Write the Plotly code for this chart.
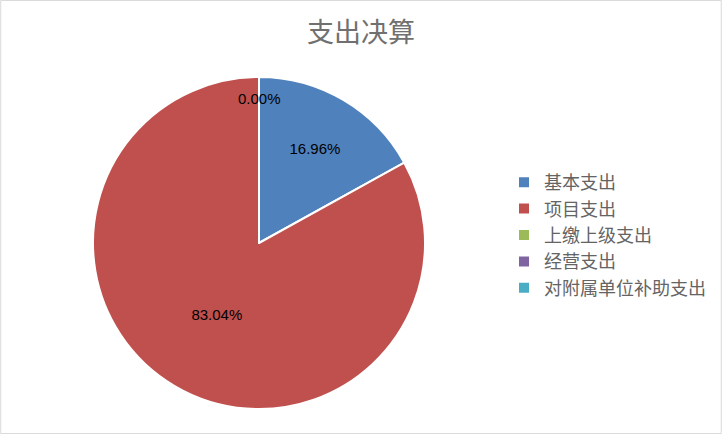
import plotly.graph_objects as go

# 支出决算 - 各项支出占比
labels = ["基本支出", "项目支出", "上缴上级支出", "经营支出", "对附属单位补助支出"]
values = [16.96, 83.04, 0.0, 0.0, 0.0]
colors = ["#4F81BD", "#C0504D", "#9BBB59", "#8064A2", "#4BACC6"]

W, H = 722, 434
font_cjk = "Noto Sans CJK SC"

fig = go.Figure()

fig.add_trace(go.Pie(
    labels=labels,
    values=values,
    sort=False,
    direction="clockwise",
    rotation=0,
    marker=dict(colors=colors, line=dict(color="white", width=2)),
    texttemplate="%{value:.2f}%",
    textposition="inside",
    insidetextorientation="horizontal",
    textfont=dict(family="Liberation Sans, Arial", size=15, color="black"),
    domain=dict(x=[93 / W, 425 / W], y=[(H - 409) / H, (H - 77) / H]),
    hoverinfo="label+percent",
    showlegend=True,
))

# 零值扇区的标签（plotly 不绘制零值扇区）
fig.add_annotation(
    x=259 / W, y=(H - 88) / H, xref="paper", yref="paper",
    text="0.00%", showarrow=False,
    font=dict(family="Liberation Sans, Arial", size=15, color="black"),
)

fig.update_layout(
    width=W,
    height=H,
    margin=dict(l=0, r=0, t=0, b=0),
    paper_bgcolor="white",
    title=dict(
        text="支出决算",
        x=0.5, xanchor="center",
        y=(H - 33) / H, yanchor="middle",
        font=dict(family=font_cjk, size=27, color="#707070"),
    ),
    legend=dict(
        x=504 / W, y=(H - 164) / H, xanchor="left", yanchor="top",
        font=dict(family=font_cjk, size=18, color="#646464"),
        itemwidth=30,
        tracegroupgap=0,
        bgcolor="rgba(0,0,0,0)",
    ),
    shapes=[dict(
        type="rect", xref="paper", yref="paper",
        x0=0.001, y0=0.001, x1=0.999, y1=0.999,
        line=dict(color="#D9D9D9", width=1),
    )],
)

fig.write_html(
    "out.html",
    config={"displayModeBar": False},
    post_script="document.body.style.margin='0';",
)
